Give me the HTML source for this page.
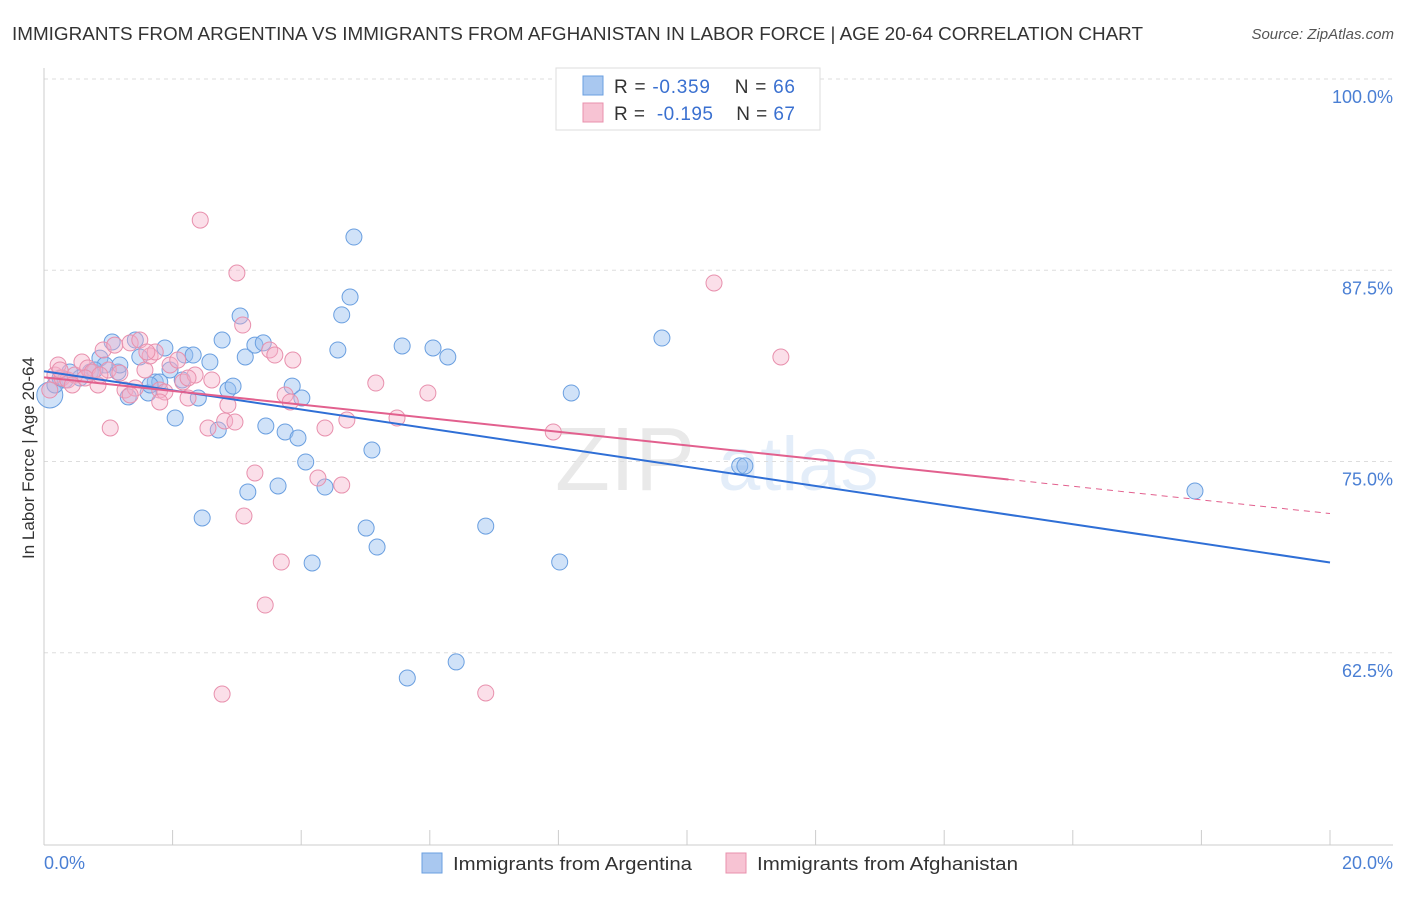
<!DOCTYPE html>
<html><head><meta charset="utf-8"><style>
body{margin:0;background:#fff;font-family:"Liberation Sans",sans-serif;}
svg text{font-family:"Liberation Sans",sans-serif;}
</style></head><body>
<svg id="chart" width="1406" height="892" xmlns="http://www.w3.org/2000/svg">
<text x="12" y="40" font-size="18" fill="#333" textLength="1131" lengthAdjust="spacingAndGlyphs">IMMIGRANTS FROM ARGENTINA VS IMMIGRANTS FROM AFGHANISTAN IN LABOR FORCE | AGE 20-64 CORRELATION CHART</text>
<text x="1394" y="39" font-size="15" fill="#555" text-anchor="end" font-style="italic">Source: ZipAtlas.com</text>
<g opacity="0.18"><text x="555" y="490" font-size="90" font-family="Liberation Serif" fill="#888">ZIP</text><text x="718" y="490" font-size="76" fill="#6a9fe0">atlas</text></g>
<g id="grid"></g>
<g id="axes"></g>
<g id="pts"></g>
<g id="lines"></g>
<text transform="translate(34,458) rotate(-90)" text-anchor="middle" font-size="17" fill="#333">In Labor Force | Age 20-64</text>
<text x="44" y="869" font-size="18" fill="#4a7fd4">0.0%</text>
<text x="1393" y="869" font-size="18" fill="#4a7fd4" text-anchor="end">20.0%</text>
<g>
<rect x="556" y="68" width="264" height="62" fill="#fff" stroke="#ddd"/>
<rect x="583" y="76" width="20" height="19" fill="#a9c8f0" stroke="#6a9fe0"/>
<rect x="583" y="103" width="20" height="19" fill="#f7c3d3" stroke="#e890ad"/>
<text x="614" y="93" font-size="19" fill="#333" xml:space="preserve" textLength="181">R = <tspan fill="#3a70d0">-0.359</tspan>    N = <tspan fill="#3a70d0">66</tspan></text>
<text x="614" y="120" font-size="19" fill="#333" xml:space="preserve" textLength="181">R =  <tspan fill="#3a70d0">-0.195</tspan>    N = <tspan fill="#3a70d0">67</tspan></text>
</g>
<g>
<rect x="422" y="853" width="20" height="20" fill="#a9c8f0" stroke="#6a9fe0"/>
<text x="453" y="870" font-size="18" fill="#333" textLength="239" lengthAdjust="spacingAndGlyphs">Immigrants from Argentina</text>
<rect x="726" y="853" width="20" height="20" fill="#f7c3d3" stroke="#e890ad"/>
<text x="757" y="870" font-size="18" fill="#333" textLength="261" lengthAdjust="spacingAndGlyphs">Immigrants from Afghanistan</text>
</g>
</svg>
<script>
const yTicks=[100,87.5,75,62.5];
const yTickLabels=["100.0%","87.5%","75.0%","62.5%"];
const blueX=[0.09,0.17,0.25,0.40,0.56,0.72,0.87,0.95,1.06,1.15,1.31,1.42,1.49,1.62,1.73,1.80,1.88,1.96,2.04,2.15,2.19,2.32,2.40,2.46,2.58,2.71,2.77,2.86,2.94,3.05,3.13,3.17,3.28,3.41,3.45,3.64,3.75,3.86,3.95,4.01,4.07,4.17,4.37,4.63,4.57,4.76,4.82,5.01,5.10,5.18,5.57,5.65,6.05,6.28,6.41,6.87,8.02,8.20,9.61,10.82,10.90,17.90,0.79,0.33,1.18,1.65];
const blueY=[79.35,80.0,80.46,80.85,80.46,80.85,81.76,81.31,82.81,80.85,79.22,82.94,81.83,79.48,80.20,80.20,82.42,80.98,77.84,80.33,81.96,81.96,79.15,71.31,81.50,77.06,82.94,79.67,79.93,84.51,81.83,73.01,82.61,82.75,77.32,73.40,76.93,79.93,76.54,79.15,74.97,68.37,73.33,84.58,82.29,85.75,89.67,70.65,75.75,69.41,82.55,60.85,82.42,81.83,61.90,70.78,68.43,79.48,83.07,74.71,74.71,73.07,80.98,80.33,81.31,80.0];
const pinkX=[0.09,0.17,0.22,0.28,0.37,0.48,0.59,0.68,0.75,0.84,0.92,1.0,1.03,1.10,1.18,1.26,1.34,1.42,1.49,1.57,1.65,1.73,1.80,1.88,1.96,2.08,2.16,2.24,2.35,2.43,2.55,2.61,2.77,2.81,2.86,2.97,3.00,3.09,3.11,3.28,3.44,3.51,3.59,3.69,3.75,3.83,3.87,4.26,4.37,4.63,4.71,5.16,5.49,5.97,6.87,7.92,10.42,11.46,0.25,0.44,0.64,0.87,1.34,1.60,1.80,2.24];
const pinkY=[79.67,80.65,81.31,80.46,80.33,80.65,81.50,81.11,80.85,80.0,82.29,80.98,77.19,82.61,80.78,79.67,82.75,79.80,82.94,80.98,81.90,82.16,79.67,79.54,81.31,81.63,80.20,79.15,80.65,90.78,77.19,80.33,59.80,77.65,78.69,77.58,87.32,83.92,71.44,74.25,65.62,82.29,81.96,68.43,79.35,78.89,81.63,73.92,77.19,73.46,77.71,80.13,77.84,79.48,59.87,76.93,86.67,81.83,80.98,80.0,80.46,80.65,79.35,82.16,78.89,80.46];
const blueTrend=[80.9,68.4];
const pinkTrend=[80.5,71.6];
const pinkSolidEnd=15.0;
const NS="http://www.w3.org/2000/svg";
const sx=v=>44+v*64.3;
const sy=v=>79+(100-v)*15.3;
function mk(t,a,p){const e=document.createElementNS(NS,t);for(const k in a)e.setAttribute(k,a[k]);p.appendChild(e);return e;}
const grid=document.getElementById('grid');
yTicks.forEach((t,i)=>{
 const l=mk('line',{x1:44,x2:1393,y1:sy(t),y2:sy(t),stroke:'#ddd','stroke-dasharray':'4,4'},grid);
 
 
 const tx=mk('text',{x:1393,y:sy(t)+24,'text-anchor':'end','font-size':18,fill:'#4a7fd4'},grid);
 tx.textContent=yTickLabels[i];
 
 
});
const ax=document.getElementById('axes');
mk('line',{x1:44,x2:44,y1:68,y2:845,stroke:'#ccc'},ax);
mk('line',{x1:44,x2:1393,y1:845,y2:845,stroke:'#ccc'},ax);
for(let i=0;i<=10;i++){const t=mk('line',{x1:sx(i*2),x2:sx(i*2),y1:830,y2:845,stroke:'#ccc'},ax);
 
 }
const pts=document.getElementById('pts');
blueX.forEach((x,i)=>{const c=mk('circle',{cx:sx(x),cy:sy(blueY[i]),r:i==0?13:8,fill:'rgba(150,190,240,0.45)',stroke:'#6a9fe0','stroke-width':1},pts);
 
 });
pinkX.forEach((x,i)=>{const c=mk('circle',{cx:sx(x),cy:sy(pinkY[i]),r:8,fill:'rgba(245,175,200,0.4)',stroke:'#e890ad','stroke-width':1},pts);
 
 });
const ln=document.getElementById('lines');
const bl=mk('line',{x1:sx(0),y1:sy(blueTrend[0]),x2:sx(20),y2:sy(blueTrend[1]),stroke:'#2f6fd6','stroke-width':2},ln);


const pe=pinkTrend[0]+(pinkTrend[1]-pinkTrend[0])*pinkSolidEnd/20;
const pl=mk('line',{x1:sx(0),y1:sy(pinkTrend[0]),x2:sx(pinkSolidEnd),y2:sy(pe),stroke:'#e2608e','stroke-width':2},ln);


const pd=mk('line',{x1:sx(pinkSolidEnd),y1:sy(pe),x2:sx(20),y2:sy(pinkTrend[1]),stroke:'#e2608e','stroke-width':1,'stroke-dasharray':'6,5'},ln);


</script>
</body></html>
